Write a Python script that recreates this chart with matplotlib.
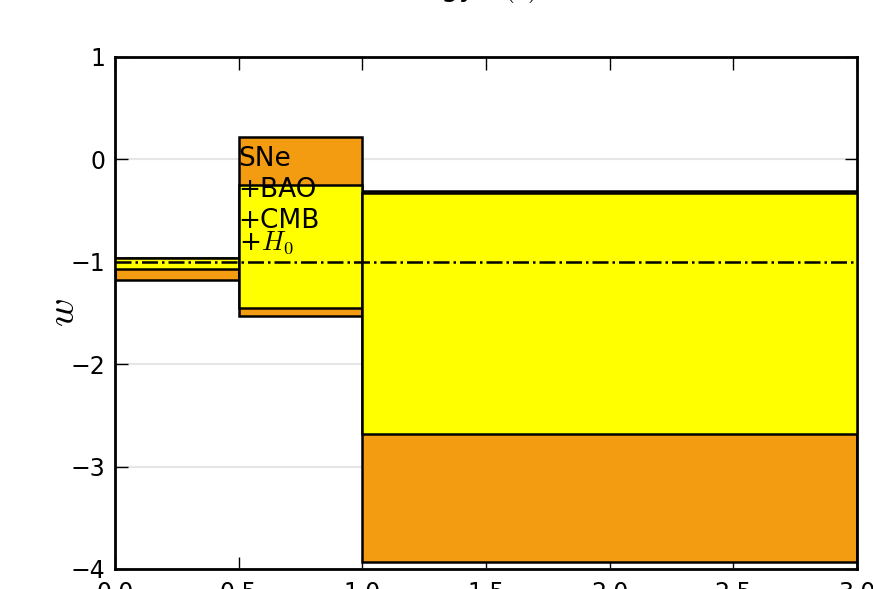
import matplotlib
matplotlib.use("Agg")
import matplotlib.pyplot as plt

plt.rcParams["mathtext.fontset"] = "cm"
plt.rcParams["font.family"] = ["DejaVu Sans"]

# redshift bin edges
bin_left = [0.0, 0.5, 1.0]
bin_right = [0.5, 1.0, 3.0]

# SNe-only constraints on w per bin (lower, upper)
sne_lo = [-1.18, -1.53, -3.93]
sne_hi = [-0.96, 0.215, -0.31]

# combined SNe+BAO+CMB+H0 constraints (lower, upper)
comb_lo = [-1.075, -1.455, -2.68]
comb_hi = [-0.96, -0.25, -0.33]

labels = ["SNe", "+BAO", "+CMB", "+$H_0$"]
label_y = [0.0, -0.3, -0.6, -0.81]

xticks = [0.0, 0.5, 1.0, 1.5, 2.0, 2.5, 3.0]
yticks = [-4, -3, -2, -1, 0, 1]

fig = plt.figure(figsize=(8.73, 5.89), dpi=100)
ax = fig.add_axes([115 / 873, 20 / 589, 742 / 873, 512 / 589])

for i in range(len(bin_left)):
    w = bin_right[i] - bin_left[i]
    ax.bar(bin_left[i], sne_hi[i] - sne_lo[i], width=w, bottom=sne_lo[i],
           align="edge", color="#f39c12", edgecolor="black", linewidth=1.8,
           zorder=2)
    ax.bar(bin_left[i], comb_hi[i] - comb_lo[i], width=w, bottom=comb_lo[i],
           align="edge", color="#ffff00", edgecolor="black", linewidth=1.8,
           zorder=3)

ax.axhline(-1, color="black", linestyle="-.", linewidth=1.8, zorder=4)

for txt, y in zip(labels, label_y):
    ax.text(0.5, y, txt, fontsize=19, va="center", ha="left", zorder=5)

ax.set_xlim(0, 3)
ax.set_ylim(-4, 1)
ax.set_xticks(xticks)
ax.set_yticks(yticks)
ax.set_xticklabels([f"{t:.1f}" for t in xticks])
ax.set_yticklabels(["\u2212" + str(-t) if t < 0 else str(t) for t in yticks])
ax.yaxis.grid(True, color="#e6e6e6", linewidth=1.5, zorder=0)
ax.set_axisbelow(True)
ax.tick_params(direction="in", length=9, width=1, labelsize=17,
               top=True, right=True)
ax.tick_params(axis="y", pad=7)
ax.tick_params(axis="x", pad=9)
for s in ax.spines.values():
    s.set_linewidth(2)
ax.set_ylabel("$w$", fontsize=28, labelpad=-8)

fig.text(0.481, 1 + 4 / 589, "Dark energy $w(z)$", fontsize=20,
         ha="center", va="baseline")

fig.savefig("out.png", dpi=100)
